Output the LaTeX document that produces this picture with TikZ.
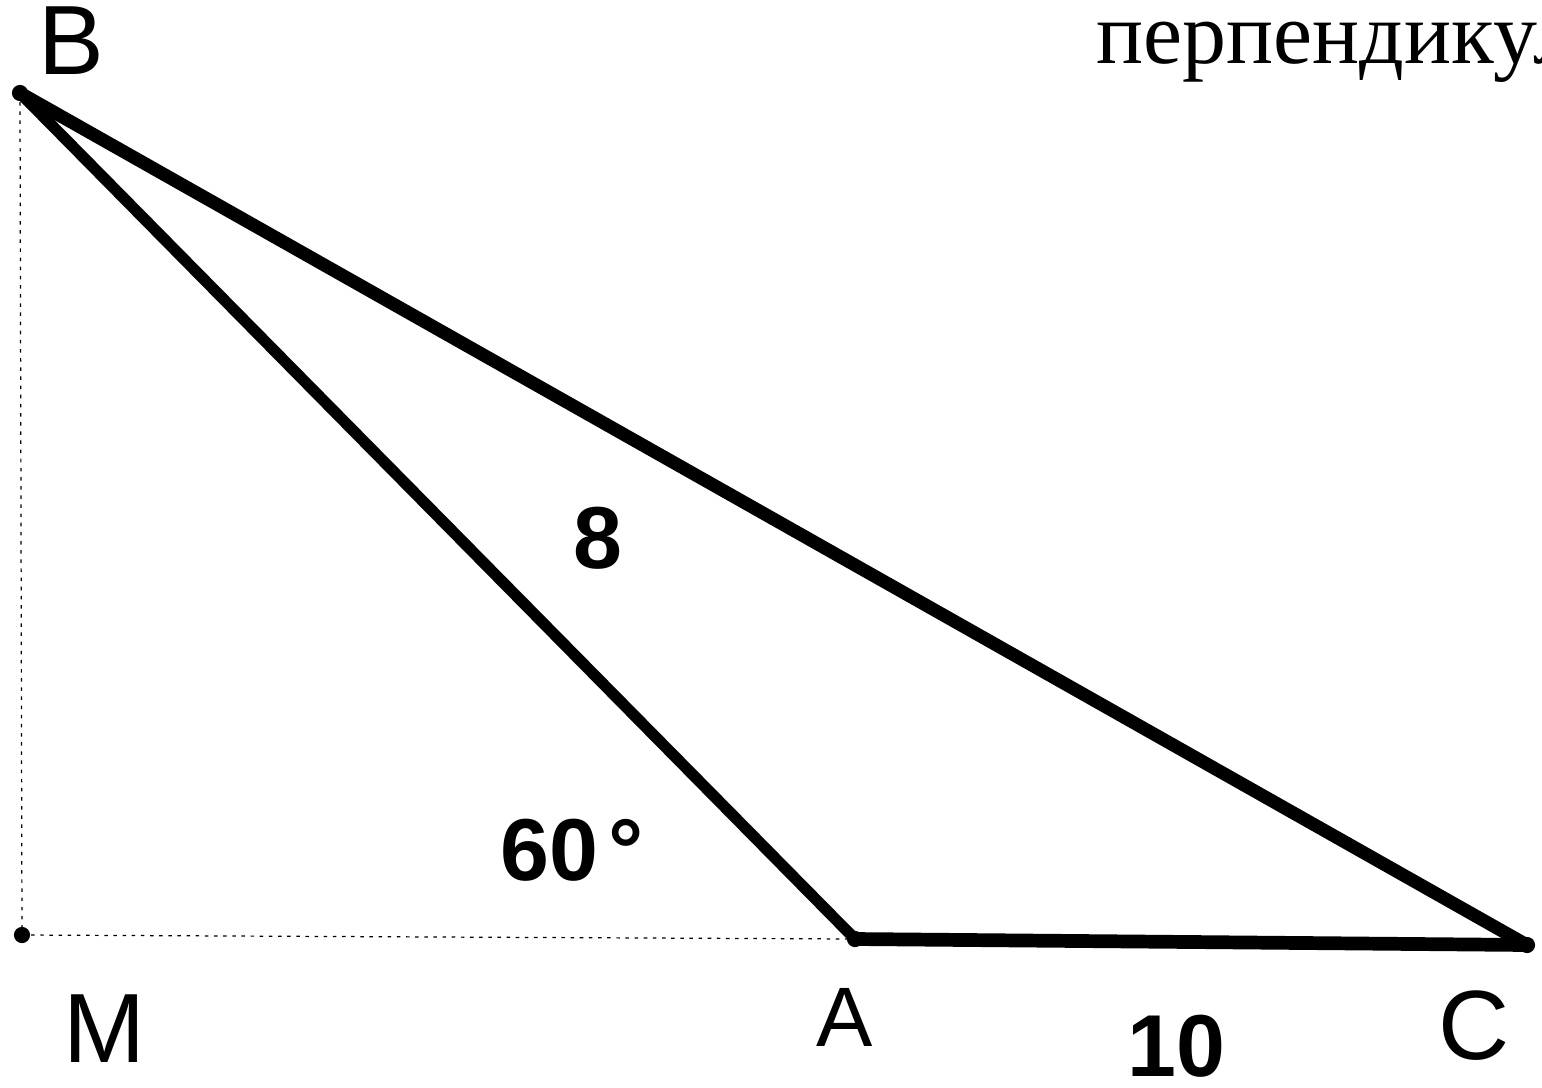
\documentclass[tikz,border=0pt]{standalone}
\usepackage{fontspec}
\setmainfont{Liberation Serif}
\newfontfamily\lsans{Liberation Sans}
\begin{document}
\begin{tikzpicture}[x=0.01cm,y=-0.01cm,
  thickline/.style={line width=3.7pt, line cap=round, line join=round},
  thinline/.style={line width=0.35pt, dash pattern=on 1pt off 1.6pt},
  pt/.style={circle, fill=black, inner sep=0pt, minimum size=4.6pt},
  ptlabel/.style={font=\lsans\fontsize{28}{32}\selectfont, inner sep=0pt},
  numlabel/.style={font=\lsans\bfseries\fontsize{25}{28}\selectfont, inner sep=0pt}]
\clip (0,0) rectangle (1542,1087);
\fill[white] (0,0) rectangle (1542,1087);
\coordinate (B) at (20,93);
\coordinate (M) at (22,935);
\coordinate (A) at (855,939);
\coordinate (C) at (1527,945);
\draw[thinline] (B) -- (M);
\draw[thinline] (M) -- (A);
\draw[thickline, line width=3.2pt] (B) -- (A);
\draw[thickline] (B) -- (C);
\draw[thickline, line width=3.9pt] (A) -- (C);
\node[pt] (pB) at (B) {};
\node[pt] (pM) at (M) {};
\node[pt] (pA) at (A) {};
\node[pt] (pC) at (C) {};
\node[ptlabel] (lB) at (71,41) {B};
\node[ptlabel] (lM) at (105,1029) {M};
\node[ptlabel, font=\lsans\fontsize{24}{28}\selectfont] (lA) at (845,1017) {A};
\node[ptlabel] (lC) at (1474,1026) {C};
\node[numlabel] (l8) at (598,538) {8};
\node[numlabel] (l60) at (572,850) {60\kern3pt°};
\node[numlabel] (l10) at (1176,1046) {10};
\node[anchor=base west, inner sep=0pt, font=\fontsize{25}{30}\selectfont] (title) at (1096,63) {перпендикулар};
\end{tikzpicture}
\end{document}
